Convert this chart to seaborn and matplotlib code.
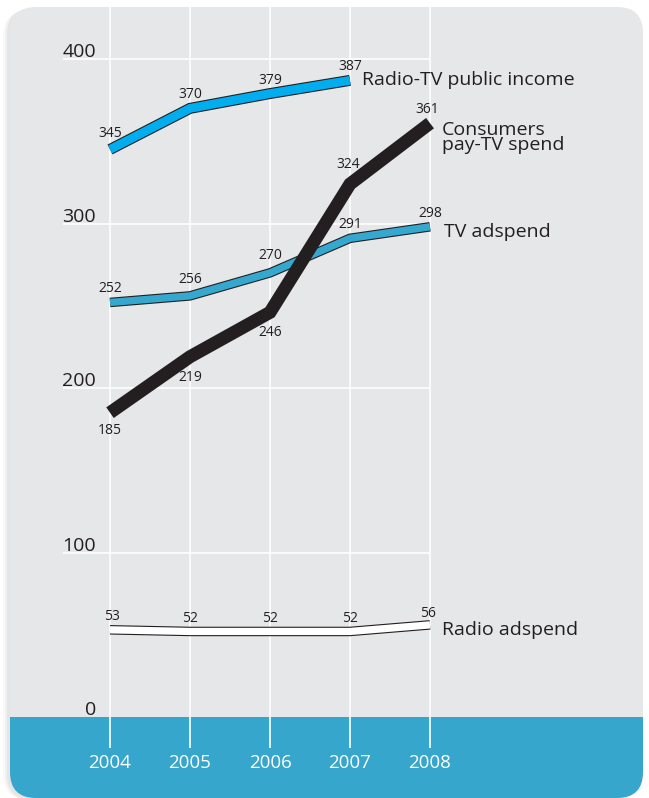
import matplotlib
matplotlib.use("Agg")
import matplotlib.pyplot as plt
import matplotlib.patheffects as pe
from matplotlib.patches import FancyBboxPatch, Rectangle
import seaborn as sns

years = [2004, 2005, 2006, 2007, 2008]
public_income = [345, 370, 379, 387]          # no 2008 value
pay_tv_spend = [185, 219, 246, 324, 361]
tv_adspend = [252, 256, 270, 291, 298]
radio_adspend = [53, 52, 52, 52, 56]
y_ticks = [0, 100, 200, 300, 400]
names = ["Radio-TV public income", "Consumers\npay-TV spend", "TV adspend", "Radio adspend"]

GRAY = "#E6E7E8"
BAND = "#36A6CC"
CYAN = "#00AEEF"
TEAL = "#35A8D0"
DARK = "#231F20"

sns.set_style("white")
plt.rcParams["font.family"] = ["Open Sans", "DejaVu Sans"]

fig = plt.figure(figsize=(6.49, 7.98), dpi=100)
fig.patch.set_facecolor("white")
ax = fig.add_axes([0, 0, 1, 1])
ax.set_axis_off()
ax.patch.set_visible(False)

# rounded panel with a soft shadow on the left, blue band at the bottom
inch = fig.dpi_scale_trans
for off, a in [(0.07, 0.025), (0.05, 0.035), (0.03, 0.045)]:
    fig.add_artist(FancyBboxPatch((0.10 - off, -0.02), 6.33, 7.93 - off / 2,
                                  boxstyle="round,pad=0,rounding_size=0.26",
                                  transform=inch, fc="black", ec="none", alpha=a, zorder=-3))
panel = FancyBboxPatch((0.10, 0.0), 6.33, 7.91, boxstyle="round,pad=0,rounding_size=0.26",
                       transform=inch, fc=GRAY, ec="none", zorder=-2)
fig.add_artist(panel)
band = Rectangle((0.10, 0.0), 6.33, 0.81, transform=inch, fc=BAND, ec="none", zorder=-1)
band.set_clip_path(panel)
fig.add_artist(band)

# grid
ax.vlines(years, -19, 432, color="white", lw=1.2, zorder=1)
ax.hlines(y_ticks[1:], 2003.41, 2008, color="white", lw=1.2, zorder=1)


def draw(vals, color, width_px, edge, z):
    lw = width_px * 0.72
    effects = [pe.Stroke(linewidth=lw, foreground=DARK), pe.Normal()] if edge else []
    sns.lineplot(x=years[:len(vals)], y=vals, ax=ax, color=color,
                 lw=lw - 1.6 if edge else lw, solid_capstyle="butt",
                 solid_joinstyle="miter", path_effects=effects, zorder=z)


draw(public_income, CYAN, 11, True, 3)
draw(tv_adspend, TEAL, 9.5, True, 3)
draw(radio_adspend, "white", 9.5, True, 3)
draw(pay_tv_spend, DARK, 13, False, 4)

# value labels (pixel offsets of the label baseline from the point)
label_offsets = {
    "public": [(0, 12), (0, 10), (0, 10), (0, 10)],
    "pay": [(0, -21), (0, -24), (0, -24), (-2, 16), (-3, 10)],
    "tv": [(0, 10), (0, 13), (0, 14), (0, 10), (0, 10)],
    "radio": [(2, 10), (0, 9), (0, 9), (0, 9), (-2, 8)],
}
series = {"public": public_income, "pay": pay_tv_spend, "tv": tv_adspend, "radio": radio_adspend}
for key, vals in series.items():
    for x, v, off in zip(years, vals, label_offsets[key]):
        ax.annotate(str(v), xy=(x, v), xytext=off, textcoords="offset pixels",
                    ha="center", va="baseline", fontsize=10, color=DARK, zorder=5)

# series names at line ends
name_pos = [(public_income, (12, -5)), (pay_tv_spend, (12, -27)),
            (tv_adspend, (14, -10)), (radio_adspend, (12, -10))]
for name, (vals, off) in zip(names, name_pos):
    ax.annotate(name, xy=(years[len(vals) - 1], vals[-1]), xytext=off,
                textcoords="offset pixels", ha="left", va="baseline",
                fontsize=14, color=DARK, linespacing=0.82, zorder=5)

# y tick labels, sitting on the grid lines
for v in y_ticks:
    ax.annotate(str(v), xy=(2004, v), xytext=(-14, 2), textcoords="offset pixels",
                ha="right", va="baseline", fontsize=14, color=DARK)

# year labels in the blue band
for x in years:
    ax.text(x, -31, str(x), ha="center", va="baseline", fontsize=13.5, color="white")

ax.set_xlim(2002.625, 2010.7375)
ax.set_ylim(-49.24, 435.87)

fig.savefig("out.png", dpi=100, facecolor="white")
